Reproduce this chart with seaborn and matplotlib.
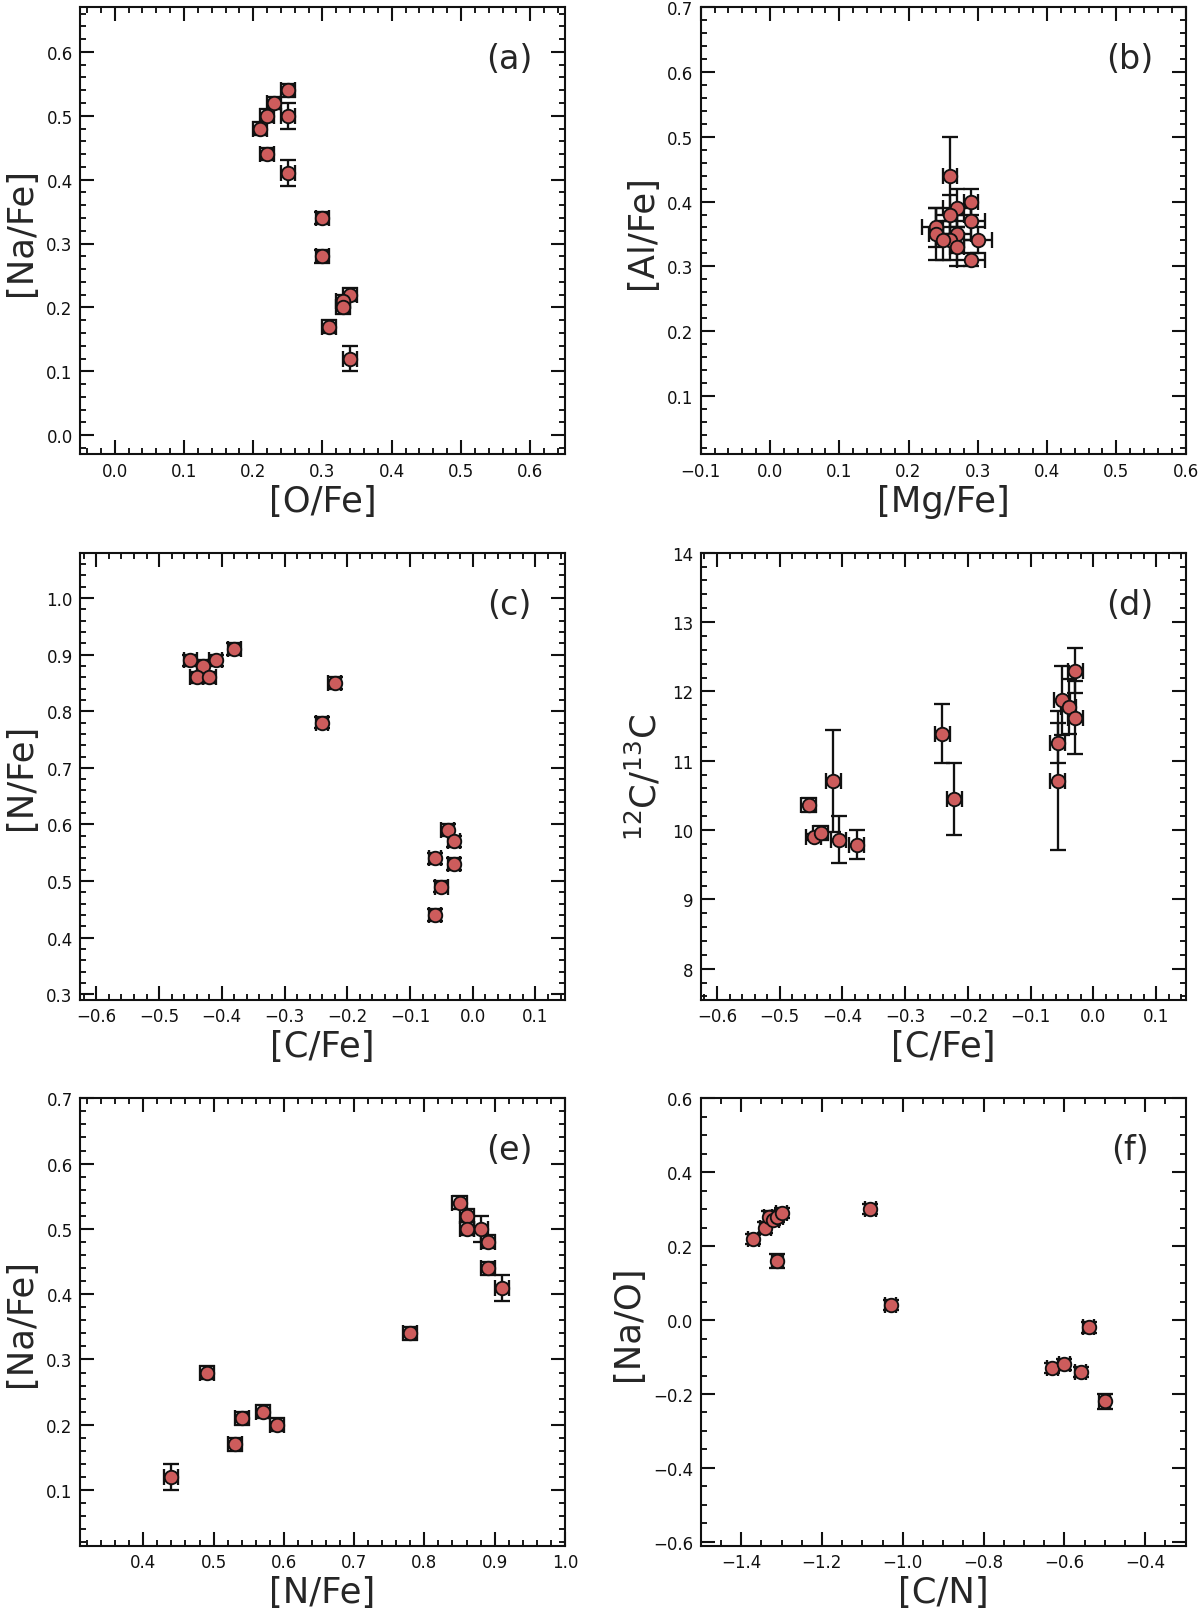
import numpy as np
import pandas as pd
import matplotlib
matplotlib.use("Agg")
import matplotlib.pyplot as plt
from matplotlib.ticker import MultipleLocator, AutoMinorLocator
import seaborn as sns

# ---------------- data ----------------
# (a) [O/Fe] vs [Na/Fe]
a_ofe = [0.25, 0.23, 0.22, 0.21, 0.25, 0.22, 0.25, 0.30, 0.30, 0.34, 0.33, 0.33, 0.31, 0.34]
a_nafe = [0.54, 0.52, 0.50, 0.48, 0.50, 0.44, 0.41, 0.34, 0.28, 0.22, 0.21, 0.20, 0.17, 0.12]
a_ofe_err = [0.01] * 14
a_nafe_err = [0.01, 0.01, 0.01, 0.01, 0.02, 0.01, 0.02, 0.01, 0.01, 0.01, 0.01, 0.01, 0.01, 0.02]

# (b) [Mg/Fe] vs [Al/Fe]
b_mgfe = [0.26, 0.27, 0.26, 0.29, 0.29, 0.24, 0.24, 0.27, 0.26, 0.25, 0.27, 0.30, 0.29]
b_alfe = [0.44, 0.39, 0.38, 0.40, 0.37, 0.36, 0.35, 0.35, 0.34, 0.34, 0.33, 0.34, 0.31]
b_mgfe_err = [0.01, 0.02, 0.02, 0.01, 0.02, 0.02, 0.01, 0.02, 0.01, 0.01, 0.01, 0.02, 0.02]
b_alfe_err = [0.06, 0.03, 0.03, 0.02, 0.03, 0.03, 0.04, 0.03, 0.03, 0.03, 0.03, 0.02, 0.01]

# (c) [C/Fe] vs [N/Fe]
c_cfe = [-0.45, -0.43, -0.41, -0.38, -0.44, -0.42, -0.22, -0.24, -0.04, -0.03, -0.06, -0.03, -0.05, -0.06]
c_nfe = [0.89, 0.88, 0.89, 0.91, 0.86, 0.86, 0.85, 0.78, 0.59, 0.57, 0.54, 0.53, 0.49, 0.44]
c_cfe_err = [0.01] * 14
c_nfe_err = [0.01] * 14

# (d) [C/Fe] vs 12C/13C
d_cfe = [-0.454, -0.446, -0.435, -0.415, -0.406, -0.377, -0.241, -0.222,
         -0.057, -0.057, -0.050, -0.039, -0.029, -0.029]
d_ratio = [10.36, 9.90, 9.96, 10.71, 9.86, 9.79, 11.39, 10.45,
           10.71, 11.26, 11.87, 11.78, 11.62, 12.30]
d_cfe_err = [0.012] * 14
d_ratio_err = [0.10, 0.05, 0.10, 0.74, 0.34, 0.21, 0.43, 0.52,
               1.00, 0.29, 0.50, 0.40, 0.53, 0.33]

# (e) [N/Fe] vs [Na/Fe]
e_nfe = [0.85, 0.86, 0.86, 0.88, 0.89, 0.89, 0.91, 0.78, 0.49, 0.57, 0.54, 0.59, 0.53, 0.44]
e_nafe = [0.54, 0.52, 0.50, 0.50, 0.48, 0.44, 0.41, 0.34, 0.28, 0.22, 0.21, 0.20, 0.17, 0.12]
e_nfe_err = [0.01] * 14
e_nafe_err = [0.01, 0.01, 0.01, 0.02, 0.01, 0.01, 0.02, 0.01, 0.01, 0.01, 0.01, 0.01, 0.01, 0.02]

# (f) [C/N] vs [Na/O]
f_cn = [-1.37, -1.34, -1.33, -1.32, -1.31, -1.30, -1.31, -1.08, -1.03, -0.54, -0.63, -0.60, -0.56, -0.50]
f_nao = [0.22, 0.25, 0.28, 0.27, 0.28, 0.29, 0.16, 0.30, 0.04, -0.02, -0.13, -0.12, -0.14, -0.22]
f_cn_err = [0.014] * 14
f_nao_err = [0.014, 0.014, 0.014, 0.014, 0.014, 0.014, 0.02, 0.014, 0.014, 0.014, 0.014, 0.014, 0.014, 0.02]

# ---------------- style ----------------
sns.set_theme(style="ticks")
plt.rcParams["font.family"] = ["DejaVu Sans"]
plt.rcParams.update({
    "xtick.direction": "in", "ytick.direction": "in",
    "xtick.top": True, "ytick.right": True,
    "xtick.major.size": 6.5, "ytick.major.size": 6.5,
    "xtick.minor.size": 3, "ytick.minor.size": 3,
    "xtick.major.width": 1.0, "ytick.major.width": 1.0,
    "xtick.minor.width": 0.9, "ytick.minor.width": 0.9,
    "xtick.labelsize": 8, "ytick.labelsize": 8,
    "axes.linewidth": 1.0, "axes.edgecolor": "#111111",
    "xtick.color": "#111111", "ytick.color": "#111111",
})

fig, axes = plt.subplots(3, 2, figsize=(8, 10.773), dpi=150)
fig.subplots_adjust(left=0.0667, right=0.988, top=0.995, bottom=0.043,
                    wspace=0.28, hspace=0.22)

panels = [
    dict(x=a_ofe, y=a_nafe, xe=a_ofe_err, ye=a_nafe_err, xl="[O/Fe]", yl="[Na/Fe]",
         xlim=(-0.05, 0.65), ylim=(-0.03, 0.67), xmaj=0.1, ymaj=0.1, tag="(a)"),
    dict(x=b_mgfe, y=b_alfe, xe=b_mgfe_err, ye=b_alfe_err, xl="[Mg/Fe]", yl="[Al/Fe]",
         xlim=(-0.1, 0.6), ylim=(0.01, 0.7), xmaj=0.1, ymaj=0.1, tag="(b)"),
    dict(x=c_cfe, y=c_nfe, xe=c_cfe_err, ye=c_nfe_err, xl="[C/Fe]", yl="[N/Fe]",
         xlim=(-0.626, 0.147), ylim=(0.29, 1.08), xmaj=0.1, ymaj=0.1, tag="(c)"),
    dict(x=d_cfe, y=d_ratio, xe=d_cfe_err, ye=d_ratio_err, xl="[C/Fe]",
         yl=r"$^{12}$C/$^{13}$C",
         xlim=(-0.626, 0.147), ylim=(7.55, 14.0), xmaj=0.1, ymaj=1.0, tag="(d)"),
    dict(x=e_nfe, y=e_nafe, xe=e_nfe_err, ye=e_nafe_err, xl="[N/Fe]", yl="[Na/Fe]",
         xlim=(0.31, 1.0), ylim=(0.015, 0.7), xmaj=0.1, ymaj=0.1, tag="(e)"),
    dict(x=f_cn, y=f_nao, xe=f_cn_err, ye=f_nao_err, xl="[C/N]", yl="[Na/O]",
         xlim=(-1.5, -0.3), ylim=(-0.61, 0.6), xmaj=0.2, ymaj=0.2, tag="(f)"),
]

for ax, p in zip(axes.flat, panels):
    df = pd.DataFrame({"x": p["x"], "y": p["y"], "xe": p["xe"], "ye": p["ye"]})
    ax.errorbar(df["x"], df["y"], xerr=df["xe"], yerr=df["ye"], fmt="none",
                ecolor="#111111", elinewidth=1.1, capsize=4, capthick=1.1, zorder=2)
    sns.scatterplot(data=df, x="x", y="y", ax=ax, s=42, color="#CD5C5C",
                    edgecolor="#111111", linewidth=0.9, zorder=3, legend=False)
    ax.set_xlim(*p["xlim"])
    ax.set_ylim(*p["ylim"])
    ax.xaxis.set_major_locator(MultipleLocator(p["xmaj"]))
    ax.yaxis.set_major_locator(MultipleLocator(p["ymaj"]))
    ax.xaxis.set_minor_locator(AutoMinorLocator())
    ax.yaxis.set_minor_locator(AutoMinorLocator())
    ax.tick_params(which="both", top=True, right=True, direction="in")
    ax.set_xlabel(p["xl"], fontsize=17, labelpad=2)
    ax.set_ylabel(p["yl"], fontsize=17, labelpad=4)
    ax.text(0.885, 0.885, p["tag"], transform=ax.transAxes, fontsize=16,
            ha="center", va="center")
    for s in ax.spines.values():
        s.set_visible(True)

fig.savefig("out.png", dpi=150)
